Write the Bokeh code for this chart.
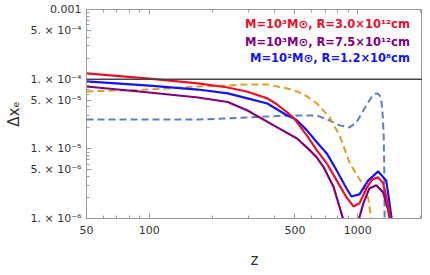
from bokeh.plotting import figure
from bokeh.models import FixedTicker, CustomJSTickFormatter, LogAxis, Span, Label, Range1d
from bokeh.embed import file_html
from bokeh.resources import INLINE

# ---------------- data ----------------
x_ticks = [50, 100, 500, 1000]
x_tick_labels = ["50", "100", "500", "1000"]
x_minor = [60, 70, 80, 90, 200, 300, 400, 600, 700, 800, 900, 2000]
y_ticks = [1e-6, 5e-6, 1e-5, 5e-5, 1e-4, 5e-4, 1e-3]
y_tick_labels = ["1. × 10⁻⁶", "5. × 10⁻⁶", "1. × 10⁻⁵", "5. × 10⁻⁵",
                 "1. × 10⁻⁴", "5. × 10⁻⁴", "0.001"]
y_minor = [k * 10.0 ** e for e in (-6, -5, -4) for k in (2, 3, 4, 6, 7, 8, 9)]

ref_level = 1e-4

red_z = [50, 100, 171.4, 238, 296, 368.6, 411, 458.6, 495, 511.6, 570.8, 636.8, 710.4,
         792.5, 884, 954, 1019, 1100, 1175, 1254, 1325, 1399, 1446]
red_v = [1.21e-4, 1.02e-4, 8.7e-5, 7.6e-5, 6.6e-5, 5.3e-5, 4.33e-5, 3.33e-5, 2.73e-5, 2.4e-5,
         1.55e-5, 9.5e-6, 6.2e-6, 3.52e-6, 2.01e-6, 1.49e-6, 1.65e-6, 2.7e-6, 3.64e-6,
         3.89e-6, 3.19e-6, 1.54e-6, 8.8e-7]

blue_z = [50, 100, 171.4, 238, 296, 368.6, 458.6, 495, 511.6, 570.8, 636.8, 710.4, 792.5,
          884, 933, 1019, 1124, 1254, 1369, 1415, 1462]
blue_v = [9.27e-5, 8.1e-5, 7.1e-5, 6.25e-5, 5.3e-5, 4.48e-5, 3.01e-5, 2.73e-5, 2.55e-5,
          1.84e-5, 1.24e-5, 8.6e-6, 4.9e-6, 2.7e-6, 2.07e-6, 2.22e-6, 3.52e-6, 4.74e-6,
          3.52e-6, 1.82e-6, 8.8e-7]

purple_z1 = [50, 100, 171.4, 238, 296, 411, 511.6, 589.8, 636.8, 687.4, 767, 818.8, 855.4, 884]
purple_v1 = [7.85e-5, 6.44e-5, 5.46e-5, 4.7e-5, 3.55e-5, 2.03e-5, 1.41e-5, 9.5e-6, 7.5e-6,
             5.4e-6, 2.8e-6, 1.45e-6, 9.3e-7, 6.3e-7]
purple_z2 = [986, 1008, 1064, 1137, 1227, 1325, 1399, 1430]
purple_v2 = [6.3e-7, 9.3e-7, 1.65e-6, 2.7e-6, 3.0e-6, 2.37e-6, 1.31e-6, 9.3e-7]

orange_z = [50, 100, 171.4, 238, 296, 368.6, 458.6, 511.6, 570.8, 636.8, 734, 818.8, 913,
            986, 1064, 1124, 1150, 1162]
orange_v = [6.67e-5, 7.1e-5, 7.85e-5, 8.1e-5, 8.4e-5, 8.4e-5, 7.36e-5, 6.67e-5, 5.65e-5,
            4.48e-5, 2.82e-5, 1.55e-5, 6.4e-6, 4.3e-6, 3.0e-6, 1.94e-6, 1.2e-6, 8.8e-7]

steel_z = [50, 100, 171.4, 238, 296, 458.6, 636.8, 734, 818.8, 913, 986, 1064, 1162, 1200,
           1227, 1254, 1282, 1303, 1318, 1332, 1339, 1346]
steel_v = [2.64e-5, 2.64e-5, 2.64e-5, 2.73e-5, 2.82e-5, 3.01e-5, 3.01e-5, 2.55e-5, 2.17e-5,
           2.03e-5, 2.39e-5, 3.55e-5, 5.46e-5, 6.03e-5, 6.25e-5, 6.13e-5, 5.65e-5,
           4.48e-5, 3.01e-5, 1.55e-5, 6.8e-6, 8.8e-7]

legend_texts = ["M=10³M⊙, R=3.0×10¹²cm",
                "M=10³M⊙, R=7.5×10¹²cm",
                "M=10²M⊙, R=1.2×10⁸cm"]

# ---------------- styles ----------------
RED = "#e8102a"
PURPLE = "#800080"
BLUE = "#1414f0"
ORANGE = "#e19c24"
STEEL = "#5e81b5"
FRAME = "#9a9a9a"
TXT = "#333333"
FONT = "DejaVu Sans"

p = figure(width=422, height=273, x_axis_type="log", y_axis_type="log",
           x_range=Range1d(50, 2045), y_range=Range1d(1e-6, 1e-3),
           output_backend="svg", toolbar_location=None,
           min_border_left=86, min_border_right=0, min_border_top=9, min_border_bottom=55)
p.grid.visible = False
p.outline_line_color = FRAME
p.background_fill_color = "white"
p.border_fill_color = "white"

fmt_js = """
for (let i = 0; i < tvals.length; i++) {
  if (Math.abs(Math.log10(tick) - Math.log10(tvals[i])) < 1e-6) { return tlabs[i]; }
}
return "";
"""

xa = p.xaxis[0]
xa.ticker = FixedTicker(ticks=x_ticks, minor_ticks=x_minor)
xa.formatter = CustomJSTickFormatter(args=dict(tvals=x_ticks, tlabs=x_tick_labels), code=fmt_js)
ya = p.yaxis[0]
ya.ticker = FixedTicker(ticks=y_ticks, minor_ticks=y_minor)
ya.formatter = CustomJSTickFormatter(args=dict(tvals=y_ticks, tlabs=y_tick_labels), code=fmt_js)

for ax in (xa, ya):
    ax.axis_line_color = FRAME
    ax.major_tick_line_color = FRAME
    ax.minor_tick_line_color = FRAME
    ax.major_tick_in = 5
    ax.major_tick_out = 0
    ax.minor_tick_in = 3
    ax.minor_tick_out = 0
    ax.major_label_text_font = FONT
    ax.major_label_text_font_size = "11px"
    ax.major_label_text_color = TXT
    ax.axis_label_text_font = FONT
    ax.axis_label_text_font_style = "normal"
    ax.axis_label_text_color = TXT

xa.axis_label = "z"
xa.axis_label_text_font_size = "15px"
xa.major_label_standoff = 7
xa.axis_label_standoff = 14
ya.axis_label = "Δxₑ"
ya.axis_label_text_font_size = "15px"
ya.major_label_standoff = 5
ya.axis_label_standoff = 5

# mirrored frame ticks (no labels) on top
top_ax = LogAxis(ticker=FixedTicker(ticks=x_ticks, minor_ticks=x_minor),
                 formatter=CustomJSTickFormatter(code="return '';"),
                 major_label_text_font_size="1px", major_label_text_alpha=0,
                 major_label_standoff=0, axis_label_standoff=0,
                 axis_line_color=FRAME, major_tick_line_color=FRAME, minor_tick_line_color=FRAME,
                 major_tick_in=5, major_tick_out=0, minor_tick_in=3, minor_tick_out=0)
p.add_layout(top_ax, "above")

# reference level
p.add_layout(Span(location=ref_level, dimension="width", line_color="#444444", line_width=1.5))

# curves
p.line(steel_z, steel_v, line_color=STEEL, line_width=2, line_dash="7 4")
p.line(orange_z, orange_v, line_color=ORANGE, line_width=2, line_dash="7 4")
p.line(purple_z1, purple_v1, line_color=PURPLE, line_width=2.2)
p.line(purple_z2, purple_v2, line_color=PURPLE, line_width=2.2)
p.line(blue_z, blue_v, line_color=BLUE, line_width=2.2)
p.line(red_z, red_v, line_color=RED, line_width=2.2)

# legend texts
legend_colors = [RED, PURPLE, BLUE]
legend_y = [6.29e-4, 3.47e-4, 2.04e-4]
for t, c, yv in zip(legend_texts, legend_colors, legend_y):
    p.add_layout(Label(x=1779, y=yv, text=t, text_align="right", text_baseline="middle",
                       text_color=c, text_font=FONT, text_font_style="bold",
                       text_font_size="11.5px"))

open("out.html", "w").write(file_html(p, INLINE))
